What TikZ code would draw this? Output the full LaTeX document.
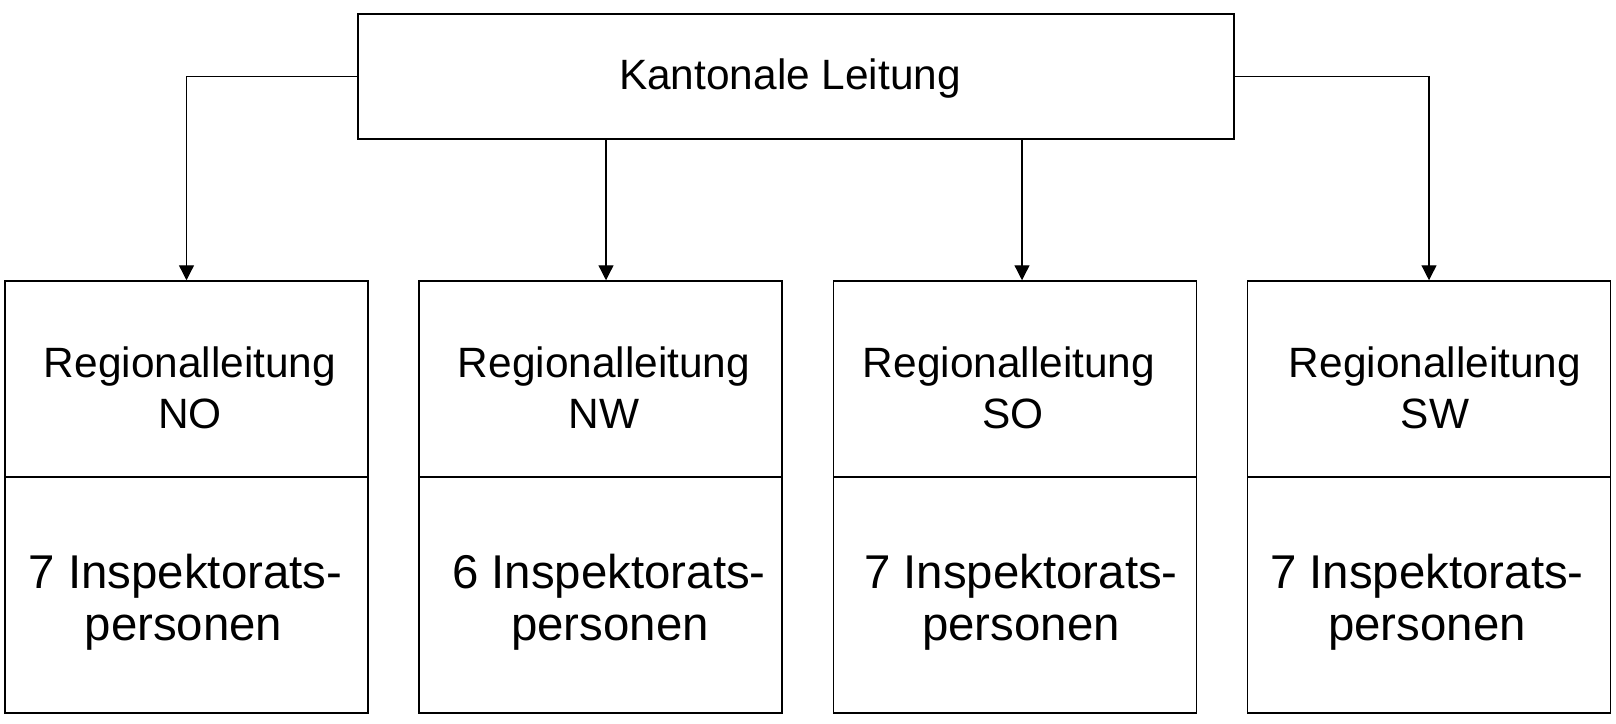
\documentclass[tikz,border=0pt]{standalone}
\usepackage{fontspec}
\setmainfont{Liberation Sans}
\usetikzlibrary{arrows.meta}
\newcommand{\topfont}[1]{{\fontsize{21.2pt}{24pt}\selectfont #1}}
\newcommand{\regfont}[1]{{\fontsize{21.2pt}{24pt}\selectfont #1}}
\newcommand{\lowfont}[1]{{\fontsize{23.7pt}{28pt}\selectfont #1}}
\begin{document}
\begin{tikzpicture}[x=0.5pt,y=-0.5pt,
  topbox/.style={draw, line width=1pt, minimum width=438pt, minimum height=62.5pt, inner sep=0pt},
  headbox/.style={draw, line width=0.75pt, minimum width=181.5pt, minimum height=98pt, inner sep=0pt},
  bodybox/.style={draw, line width=0.75pt, minimum width=181.5pt, minimum height=118pt, inner sep=0pt},
  txt/.style={anchor=base, inner sep=0pt},
  conn/.style={line width=0.65pt, -{Triangle[length=7.5pt,width=7.5pt]}}]
\useasboundingbox (0,0) rectangle (1616,723);
% top box
\node[topbox] (top) at (796,76.5) {};
\node[txt] (toptxt) at (790,89) {\topfont{Kantonale Leitung}};
% regional boxes
\node[headbox] (h1) at (186.5,379) {};
\node[bodybox] (b1) at (186.5,595) {};
\node[headbox] (h2) at (600.5,379) {};
\node[bodybox] (b2) at (600.5,595) {};
\node[headbox] (h3) at (1015,379) {};
\node[bodybox] (b3) at (1015,595) {};
\node[headbox] (h4) at (1429,379) {};
\node[bodybox] (b4) at (1429,595) {};
% texts
\node[txt] (r1a) at (190,377) {\regfont{Regionalleitung}};
\node[txt] (r1b) at (190,428) {\regfont{NO}};
\node[txt] (p1a) at (185.5,588) {\lowfont{7 Inspektorats-}};
\node[txt] (p1b) at (183.5,640) {\lowfont{personen}};
\node[txt] (r2a) at (604,377) {\regfont{Regionalleitung}};
\node[txt] (r2b) at (604,428) {\regfont{NW}};
\node[txt] (p2a) at (609,588) {\lowfont{6 Inspektorats-}};
\node[txt] (p2b) at (610,640) {\lowfont{personen}};
\node[txt] (r3a) at (1009,377) {\regfont{Regionalleitung}};
\node[txt] (r3b) at (1013,428) {\regfont{SO}};
\node[txt] (p3a) at (1021,588) {\lowfont{7 Inspektorats-}};
\node[txt] (p3b) at (1021,640) {\lowfont{personen}};
\node[txt] (r4a) at (1435,377) {\regfont{Regionalleitung}};
\node[txt] (r4b) at (1435,428) {\regfont{SW}};
\node[txt] (p4a) at (1427,588) {\lowfont{7 Inspektorats-}};
\node[txt] (p4b) at (1427,640) {\lowfont{personen}};
% connectors
\draw[conn] (top.west) -| (h1.north);
\draw[conn] (top.east) -| (h4.north);
\draw[conn] (top.south -| 606,0) -- (h2.north -| 606,0);
\draw[conn] (top.south -| 1022,0) -- (h3.north -| 1022,0);
\end{tikzpicture}
\end{document}
